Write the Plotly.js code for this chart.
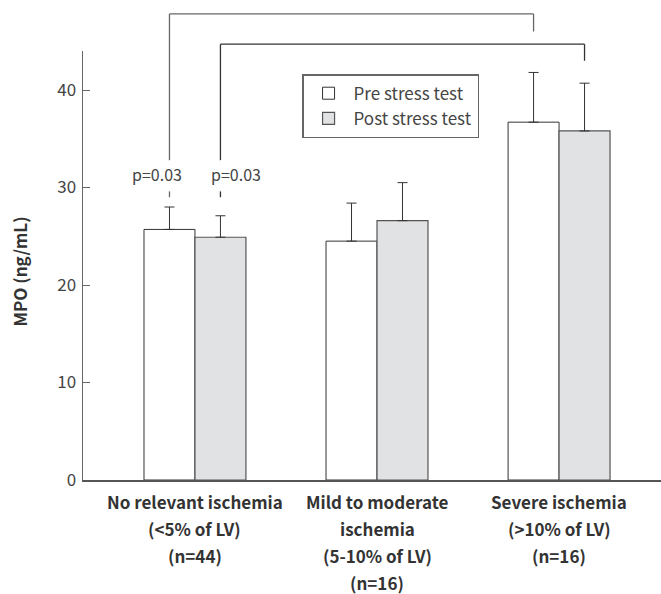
<!DOCTYPE html>
<html>
<head>
<meta charset="utf-8">
<script src="https://cdn.plot.ly/plotly-3.0.1.min.js"></script>
<style>html,body{margin:0;padding:0;background:#fff;}#chart{width:661px;height:594px;}</style>
</head>
<body>
<div id="chart"></div>
<script>
// ---- data ----
const categoryLines = [
  ["No relevant ischemia", "(<5% of LV)", "(n=44)"],
  ["Mild to moderate", "ischemia", "(5-10% of LV)", "(n=16)"],
  ["Severe ischemia", "(>10% of LV)", "(n=16)"]
];
const categoryIndex = [0, 1, 2];
const seriesNames = ["Pre stress test", "Post stress test"];
const preMean = [25.7, 24.5, 36.7];
const preSD = [2.3, 3.9, 5.1];
const postMean = [24.9, 26.6, 35.8];
const postSD = [2.2, 3.9, 4.9];
const yTicks = [0, 10, 20, 30, 40];

// significance brackets: series index, from group, to group, top level, right drop end, left drop end
const bracketSeries = [0, 1];
const bracketFrom = [0, 0];
const bracketTo = [2, 2];
const bracketTop = [47.8, 44.7];
const bracketRightEnd = [46.0, 43.0];
const bracketLeftEnd = [32.8, 32.8];
const bracketLabel = ["p=0.03", "p=0.03"];

// ---- layout constants ----
const FONT = "Noto Sans CJK KR, Noto Sans, sans-serif";
const yMax = 44;
const xRange = [-0.615, 2.56];
const bargap = 0.44;
const barW = (1 - bargap) / 2;
const offsets = [-barW / 2, barW / 2];
const labelShift = [-12, 16];
const xToPaper = x => (x - xRange[0]) / (xRange[1] - xRange[0]);
const yToPaper = y => y / yMax;

const traces = [
  {
    type: "bar", name: seriesNames[0], x: categoryIndex, y: preMean,
    marker: {color: "#ffffff", line: {color: "#333333", width: 1}},
    error_y: {type: "data", symmetric: false, array: preSD, arrayminus: preSD.map(() => 0),
              color: "#333333", thickness: 1, width: 5}
  },
  {
    type: "bar", name: seriesNames[1], x: categoryIndex, y: postMean,
    marker: {color: "#e1e2e4", line: {color: "#555555", width: 1.2}},
    error_y: {type: "data", symmetric: false, array: postSD, arrayminus: postSD.map(() => 0),
              color: "#333333", thickness: 1, width: 5}
  }
];

const shapes = [];
const annotations = [];
bracketSeries.forEach((s, i) => {
  const xl = bracketFrom[i] + offsets[s];
  const xr = bracketTo[i] + offsets[s];
  const col = i === 0 ? "#666666" : "#333333";
  const line = {color: col, width: 1.3};
  const mk = (x0, y0, x1, y1) => ({type: "line", xref: "paper", yref: "paper",
    x0: xToPaper(x0), y0: yToPaper(y0), x1: xToPaper(x1), y1: yToPaper(y1), line: line});
  shapes.push(mk(xl, bracketLeftEnd[i], xl, bracketTop[i]));
  shapes.push(mk(xl, bracketTop[i], xr, bracketTop[i]));
  shapes.push(mk(xr, bracketTop[i], xr, bracketRightEnd[i]));
  shapes.push(mk(xl, bracketLeftEnd[i] - 3.2, xl, bracketLeftEnd[i] - 3.8));
  annotations.push({xref: "x", yref: "y", x: xl, y: bracketLeftEnd[i] - 1.4, xshift: labelShift[i],
    text: bracketLabel[i], showarrow: false, font: {family: FONT, size: 16, color: "#444"},
    xanchor: "center", yanchor: "middle"});
});

categoryLines.forEach((lines, ci) => {
  lines.forEach((t, li) => {
    annotations.push({xref: "x", yref: "paper", x: categoryIndex[ci], y: 0, yanchor: "middle",
      yshift: -(21 + 27.3 * li), text: "<b>" + t.replace(/</g, "&lt;").replace(/>/g, "&gt;") + "</b>",
      showarrow: false, font: {family: FONT, size: 17, color: "#333"}});
  });
});

annotations.push({xref: "paper", yref: "paper", x: 0, y: 0.486, xshift: -63, textangle: -90,
  text: "<b>MPO (ng/mL)</b>", showarrow: false, xanchor: "center", yanchor: "middle",
  font: {family: FONT, size: 17, color: "#333"}});

const layout = {
  width: 661, height: 594,
  margin: {l: 83, r: 0, t: 51, b: 114},
  paper_bgcolor: "#fff", plot_bgcolor: "#fff",
  font: {family: FONT, color: "#444"},
  barmode: "group", bargap: bargap, bargroupgap: 0,
  showlegend: true,
  legend: {x: 0.379, y: 0.946, xanchor: "left", yanchor: "top", bgcolor: "#fff",
    bordercolor: "#666", borderwidth: 1.5, font: {family: FONT, size: 17, color: "#444"},
    traceorder: "normal", itemwidth: 40},
  xaxis: {range: xRange, showticklabels: false, ticks: "", showgrid: false, zeroline: false,
    showline: true, linecolor: "#555", linewidth: 1.5, fixedrange: true},
  yaxis: {range: [0, yMax], tickvals: yTicks, ticks: "inside", ticklen: 7, tickcolor: "#666",
    tickwidth: 1, showgrid: false, zeroline: false, showline: true, linecolor: "#666", linewidth: 1.5,
    tickfont: {family: FONT, size: 17, color: "#444"}, ticklabelstandoff: 2, fixedrange: true},
  shapes: shapes,
  annotations: annotations
};

Plotly.newPlot("chart", traces, layout, {displayModeBar: false, staticPlot: true});
</script>
</body>
</html>
